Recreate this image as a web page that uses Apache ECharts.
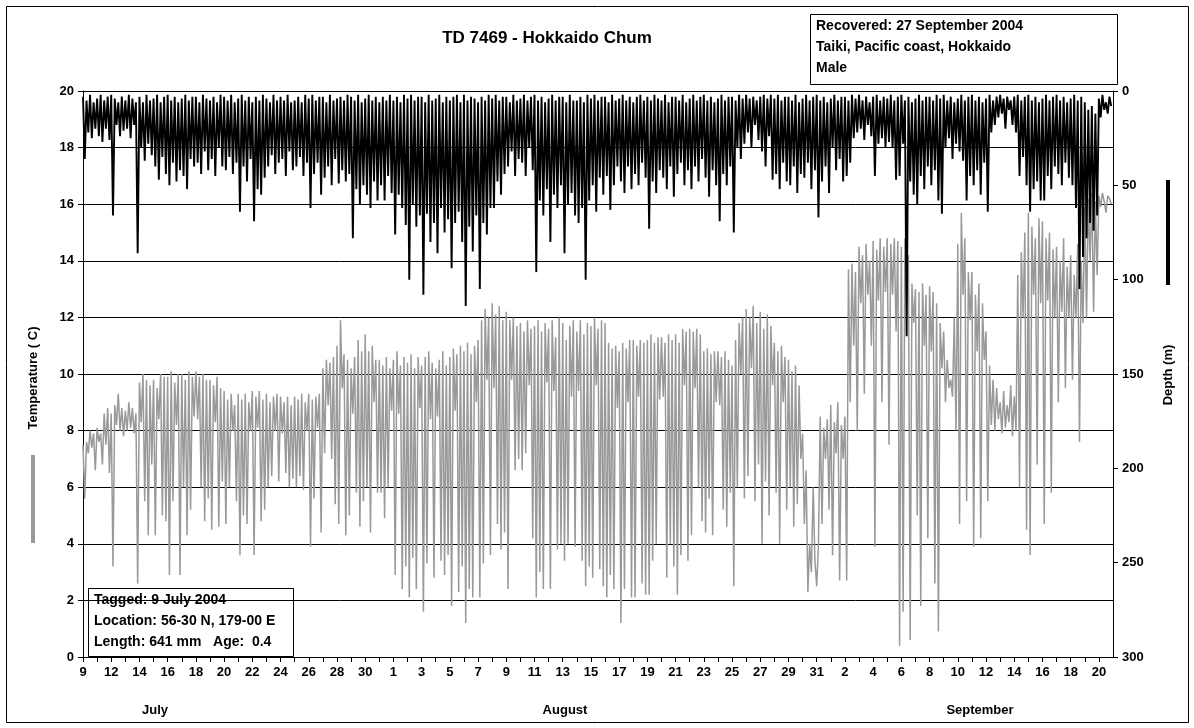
<!DOCTYPE html>
<html>
<head>
<meta charset="utf-8">
<title>TD 7469 - Hokkaido Chum</title>
<script src="https://cdn.jsdelivr.net/npm/echarts@6/dist/echarts.min.js"></script>
<style>
  html, body { margin: 0; padding: 0; background: #fff; }
  #chart { width: 1194px; height: 728px; }
</style>
</head>
<body>
<div id="chart"></div>
<script>
// Archival tag record: 8 readings per day (every 3 h), day 0 = start of the record.
const SAMPLES_PER_DAY = 8;

// Temperature (deg C), July days
const tempJuly = [
  7.5,5.6,7.6,7.2,8.0,7.4,7.9,6.6,
  8.1,7.6,7.9,6.8,8.6,7.5,8.8,6.5,
  8.6,3.2,8.9,8.2,9.3,8.0,8.8,7.8,
  8.7,8.0,9.0,8.1,8.8,7.9,8.6,2.6,
  9.7,8.3,10.0,5.5,9.8,4.3,9.6,6.8,
  9.8,4.3,9.5,8.4,10.0,5.0,9.9,4.8,
  9.9,2.9,10.1,5.5,9.7,8.2,10.0,2.9,
  10.0,6.0,9.8,4.3,10.1,5.2,9.9,8.5,
  10.1,8.4,9.9,6.0,10.0,4.8,9.8,5.6,
  9.8,4.5,9.6,8.3,9.9,4.6,9.5,6.2,
  9.4,4.7,9.1,6.0,9.3,8.0,8.9,5.5,
  9.3,3.6,9.1,5.0,9.3,4.7,9.0,8.0,
  9.4,3.6,9.2,8.1,9.4,4.8,9.1,5.2,
  9.3,6.0,9.0,6.4,9.2,8.0,9.3,6.2,
  9.2,7.9,9.0,6.5,9.2,6.0,8.9,6.3,
  9.2,6.0,9.1,6.4,9.3,5.9,9.0,8.0,
  9.3,3.9,9.1,5.6,9.2,8.1,9.3,4.4,
  10.2,7.2,10.5,8.9,10.4,7.0,10.6,5.4,
  11.0,4.7,11.9,9.5,10.7,4.3,10.5,5.0,
  10.2,8.6,10.6,5.8,11.2,4.6,10.8,5.5,
  11.4,6.0,10.8,4.4,11.0,9.0,10.5,5.8,
  10.5,5.8,10.3,4.9,10.6,6.0,10.2,8.7
];

// Temperature (deg C), August
const tempAugust = [
  10.5,2.9,10.8,8.6,10.3,2.4,10.6,3.2,
  10.4,2.1,10.7,3.5,10.2,2.4,10.6,8.8,
  10.3,1.6,10.6,3.3,10.8,8.4,10.4,2.8,
  10.2,8.5,10.5,3.4,10.8,2.9,10.3,3.6,
  10.6,1.8,10.9,8.7,10.7,2.3,11.0,3.2,
  10.8,1.2,11.1,2.4,10.7,2.1,11.0,9.0,
  11.2,2.1,11.9,3.3,12.3,9.8,12.0,3.6,
  12.5,9.5,12.1,4.7,12.4,3.8,11.9,4.4,
  12.2,2.4,11.9,9.8,12.0,6.6,11.7,7.0,
  11.8,6.6,11.5,7.2,11.9,9.6,11.6,4.2,
  11.7,2.1,11.9,3.0,11.5,2.4,11.8,9.7,
  11.6,2.4,11.9,9.4,11.3,3.8,12.0,4.0,
  11.8,3.4,11.2,4.0,11.7,9.2,11.9,3.9,
  11.5,9.4,11.9,3.4,11.4,2.5,11.8,3.2,
  11.7,2.8,12.0,9.6,11.6,3.1,11.9,2.5,
  11.8,2.1,11.1,2.9,10.9,2.4,11.0,8.8,
  10.8,1.2,11.1,2.4,10.9,9.0,11.2,2.1,
  11.2,2.1,11.0,9.2,11.2,2.6,11.1,2.2,
  11.2,2.2,11.4,3.4,11.1,4.0,11.3,9.1,
  11.3,9.2,11.1,2.8,11.4,4.0,11.2,3.2,
  11.4,2.2,11.1,3.6,11.6,9.6,11.5,3.4,
  11.6,4.3,11.5,9.5,11.6,6.0,11.4,4.8,
  10.8,4.4,10.9,5.6,10.7,4.3,10.8,9.0,
  10.8,8.9,10.6,5.2,10.8,4.6,10.5,5.8,
  10.3,2.5,11.2,6.0,11.8,10.0,12.0,5.6,
  12.3,6.4,12.0,10.2,12.4,5.5,11.8,6.8,
  12.2,4.0,11.6,6.2,12.1,5.0,11.7,9.6,
  11.1,5.8,10.8,4.0,11.0,9.0,10.6,5.2,
  10.5,6.0,10.1,4.6,10.3,5.4,9.6,7.0,
  7.9,4.7,6.6,2.3,4.0,3.0,6.0,3.4,
  2.5,4.0,8.5,4.7,8.1,7.0,8.4,5.2
];

// Temperature (deg C), September
const tempSeptember = [
  8.9,3.6,8.3,7.2,9.0,2.7,8.2,7.0,
  8.5,2.7,13.7,9.0,13.9,11.0,13.6,8.0,
  14.5,12.5,14.2,9.3,14.6,12.8,14.0,11.0,
  14.7,3.9,14.4,12.6,14.8,9.0,14.5,12.9,
  14.8,7.5,14.6,12.8,14.8,11.5,14.7,0.4,
  14.5,1.6,14.8,12.5,14.2,0.6,13.2,11.8,
  13.0,5.0,12.9,1.8,13.2,11.0,12.8,4.2,
  13.1,10.8,12.9,2.6,12.5,0.9,11.8,10.2,
  11.5,9.0,10.5,9.5,9.8,9.2,12.0,8.0,
  14.6,4.7,15.7,12.8,14.8,5.5,13.6,11.9,
  13.6,3.9,12.8,10.8,13.2,4.2,12.5,10.5,
  11.5,5.5,10.3,8.2,9.8,8.0,9.5,8.4,
  9.0,7.9,9.4,8.1,8.9,8.3,9.6,7.8,
  9.2,8.0,13.5,6.0,14.3,12.0,15.0,4.5,
  15.7,3.6,15.2,12.8,14.8,6.8,15.5,12.5,
  15.4,4.7,14.8,12.6,15.0,5.8,14.4,12.0,
  14.5,9.0,14.0,12.2,14.8,9.5,13.8,12.0,
  14.2,9.8,13.5,12.0,14.6,7.6,14.0,11.8,
  15.9,12.0,16.2,14.0,16.4,12.2,16.1,13.5,
  16.3,15.9,16.4,16.1,15.7,16.3,16.2,16.0
];

// Depth (m), July days
const depthJuly = [
  3,36,5,22,2,25,6,20,
  4,24,2,27,5,20,3,26,
  2,66,4,18,6,24,3,21,
  5,20,2,25,4,18,6,86,
  3,30,6,37,2,28,5,34,
  4,40,2,47,6,35,3,44,
  2,50,5,38,3,48,6,42,
  4,45,2,52,5,36,3,40,
  3,38,6,44,2,32,4,42,
  5,36,3,45,6,30,2,40,
  3,42,5,35,2,44,6,38,
  4,64,2,40,5,48,3,36,
  6,69,3,52,5,55,2,46,
  4,40,6,34,2,44,5,38,
  3,36,5,45,2,32,6,42,
  5,40,3,35,6,45,2,38,
  4,62,2,44,5,38,3,55,
  3,46,6,40,2,50,5,36,
  4,49,3,42,5,48,2,44,
  3,78,5,52,2,60,6,50,
  4,55,2,62,5,48,3,58,
  6,50,3,58,5,45,2,54
];

// Depth (m), August
const depthAugust = [
  5,76,3,55,6,62,2,71,
  4,100,2,60,5,72,3,66,
  3,108,6,65,2,80,5,70,
  4,86,2,62,6,75,3,68,
  5,94,3,70,2,64,6,80,
  2,114,5,72,3,85,4,66,
  6,105,3,70,5,76,2,62,
  4,62,2,48,5,55,3,44,
  3,40,6,32,2,45,5,36,
  4,38,2,45,5,30,3,42,
  2,96,5,58,3,66,6,52,
  4,80,2,55,5,62,3,50,
  3,86,6,60,2,54,5,66,
  5,70,3,62,6,100,2,58,
  4,50,2,64,5,46,3,55,
  3,45,6,63,2,50,5,40,
  4,48,2,54,5,40,3,52,
  6,44,3,50,2,38,5,46,
  3,73,5,48,2,54,4,42,
  5,46,2,52,6,40,3,56,
  3,44,5,38,2,50,6,42,
  4,52,2,40,5,48,3,36,
  2,46,5,56,3,42,6,50,
  4,69,2,44,5,50,3,40,
  3,75,5,30,2,36,4,28,
  2,22,4,30,3,18,5,26,
  3,32,2,40,4,24,2,47,
  4,44,2,52,5,38,3,48,
  3,50,5,40,2,54,6,44,
  4,46,2,38,5,52,3,42,
  2,67,5,48,3,40,6,54
];

// Depth (m), September
const depthSeptember = [
  4,30,2,42,5,36,3,48,
  3,45,5,38,2,25,4,22,
  2,20,5,26,3,18,6,24,
  3,45,2,28,5,25,3,30,
  4,27,2,30,5,47,3,45,
  2,28,5,130,3,48,6,55,
  4,60,2,45,5,52,3,40,
  3,50,5,42,2,58,4,65,
  2,30,5,25,3,36,6,28,
  4,32,2,37,5,58,3,45,
  2,50,5,42,3,55,6,38,
  4,64,2,22,5,18,3,14,
  2,12,4,20,3,10,5,18,
  3,22,2,45,5,35,3,50,
  2,64,5,52,3,48,6,58,
  4,58,2,45,5,52,3,40,
  2,44,5,50,3,38,6,46,
  4,50,2,62,5,105,3,88,
  6,78,10,70,8,74,12,66,
  4,14,2,10,6,12,3,8
];

// Day-of-month labels shown on every second day tick
const xTickLabels = ['9','12','14','16','18','20','22','24','26','28','30',
  '1','3','5','7','9','11','13','15','17','19','21','23','25','27','29','31',
  '2','4','6','8','10','12','14','16','18','20'];
const monthLabels = ['July', 'August', 'September'];

const titleText = 'TD 7469 - Hokkaido Chum';
const recoveredLines = ['Recovered: 27 September 2004', 'Taiki, Pacific coast, Hokkaido', 'Male'];
const taggedLines = ['Tagged: 9 July 2004', 'Location: 56-30 N, 179-00 E', 'Length: 641 mm   Age:  0.4'];

const FONT = '"Liberation Sans", Arial, sans-serif';
const DAYS = 73;

function toPoints(parts) {
  const values = [].concat(...parts);
  return values.map((v, i) => [i / SAMPLES_PER_DAY, v]);
}

const tempPoints = toPoints([tempJuly, tempAugust, tempSeptember]);
const depthPoints = toPoints([depthJuly, depthAugust, depthSeptember]);

const chart = echarts.init(document.getElementById('chart'), null, { renderer: 'canvas' });

const labelStyle = { color: '#000', fontFamily: FONT, fontWeight: 'bold', fontSize: 13 };

function boxGroup(x, y, w, h, lines, lineH) {
  const children = [{
    type: 'rect',
    shape: { x: x + 0.5, y: y + 0.5, width: w, height: h },
    style: { fill: '#fff', stroke: '#000', lineWidth: 1 }
  }];
  lines.forEach((t, i) => {
    children.push({
      type: 'text',
      x: x + 6, y: y + 5 + i * lineH,
      style: { text: t, fill: '#000', font: 'bold 14px ' + FONT, textVerticalAlign: 'top' }
    });
  });
  return { type: 'group', children: children, z: 100 };
}

const option = {
  animation: false,
  backgroundColor: '#fff',
  grid: { left: 83, right: 81, top: 91, bottom: 71, containLabel: false },
  xAxis: {
    type: 'value',
    min: 0, max: DAYS, interval: 1,
    axisLine: { show: true, onZero: false, lineStyle: { color: '#000', width: 1 } },
    axisTick: { show: true, length: 5, lineStyle: { color: '#000' } },
    splitLine: { show: false },
    axisLabel: Object.assign({}, labelStyle, {
      margin: 9,
      showMaxLabel: false,
      formatter: function (v) {
        const k = Math.round(v);
        if (k % 2 === 0 && k / 2 < xTickLabels.length) return xTickLabels[k / 2];
        return '';
      }
    })
  },
  yAxis: [
    {
      type: 'value', position: 'left',
      min: 0, max: 20, interval: 2,
      axisLine: { show: true, lineStyle: { color: '#000', width: 1 } },
      axisTick: { show: true, length: 5, lineStyle: { color: '#000' } },
      splitLine: { show: true, lineStyle: { color: '#000', width: 1 } },
      axisLabel: Object.assign({}, labelStyle, { margin: 9 })
    },
    {
      type: 'value', position: 'right', inverse: true,
      min: 0, max: 300, interval: 50,
      axisLine: { show: true, lineStyle: { color: '#000', width: 1 } },
      axisTick: { show: true, length: 5, lineStyle: { color: '#000' } },
      splitLine: { show: false },
      axisLabel: Object.assign({}, labelStyle, { margin: 9 })
    }
  ],
  series: [
    {
      name: 'Temperature',
      type: 'line',
      yAxisIndex: 0,
      data: tempPoints,
      showSymbol: false,
      symbol: 'none',
      sampling: 'none',
      lineStyle: { color: '#999999', width: 1.5, join: 'miter', miterLimit: 2 },
      itemStyle: { color: '#999999' },
      z: 2
    },
    {
      name: 'Depth',
      type: 'line',
      yAxisIndex: 1,
      data: depthPoints,
      showSymbol: false,
      symbol: 'none',
      sampling: 'none',
      lineStyle: { color: '#000000', width: 1.9, join: 'miter', miterLimit: 2 },
      itemStyle: { color: '#000000' },
      z: 3
    }
  ],
  graphic: [
    {
      type: 'rect',
      shape: { x: 6.5, y: 6.5, width: 1182, height: 716 },
      style: { fill: 'none', stroke: '#000', lineWidth: 1 },
      silent: true
    },
    {
      type: 'text', x: 547, y: 38,
      style: { text: titleText, fill: '#000', font: 'bold 17px ' + FONT, textAlign: 'center', textVerticalAlign: 'middle' }
    },
    boxGroup(810, 14, 307, 70, recoveredLines, 21),
    boxGroup(88, 588, 205, 68, taggedLines, 21),
    {
      type: 'text', x: 33, y: 378, rotation: Math.PI / 2,
      style: { text: 'Temperature ( C)', fill: '#000', font: 'bold 13px ' + FONT, textAlign: 'center', textVerticalAlign: 'middle' }
    },
    {
      type: 'rect', shape: { x: 31, y: 455, width: 4, height: 88 },
      style: { fill: '#999999' }
    },
    {
      type: 'text', x: 1168, y: 375, rotation: Math.PI / 2,
      style: { text: 'Depth (m)', fill: '#000', font: 'bold 13px ' + FONT, textAlign: 'center', textVerticalAlign: 'middle' }
    },
    {
      type: 'rect', shape: { x: 1166, y: 180, width: 4, height: 105 },
      style: { fill: '#000' }
    },
    {
      type: 'text', x: 155, y: 710,
      style: { text: monthLabels[0], fill: '#000', font: 'bold 13px ' + FONT, textAlign: 'center', textVerticalAlign: 'middle' }
    },
    {
      type: 'text', x: 565, y: 710,
      style: { text: monthLabels[1], fill: '#000', font: 'bold 13px ' + FONT, textAlign: 'center', textVerticalAlign: 'middle' }
    },
    {
      type: 'text', x: 980, y: 710,
      style: { text: monthLabels[2], fill: '#000', font: 'bold 13px ' + FONT, textAlign: 'center', textVerticalAlign: 'middle' }
    }
  ]
};

chart.setOption(option);
</script>
</body>
</html>
